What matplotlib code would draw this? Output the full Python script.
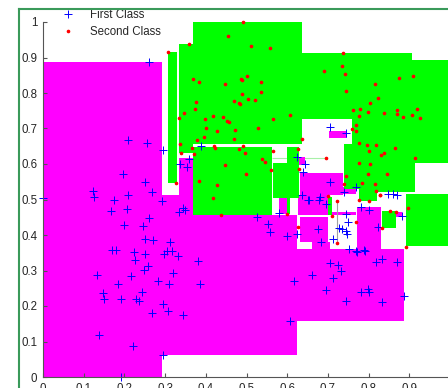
import matplotlib
matplotlib.use('Agg')
import numpy as np
import matplotlib.pyplot as plt
from matplotlib.lines import Line2D

plt.rcParams['font.family'] = ['Liberation Sans', 'DejaVu Sans']

# regions assigned to the first class (left, right, bottom, top)
first_left = [0.000, 0.293, 0.293, 0.335, 0.623, 0.771, 0.631, 0.662, 0.580, 0.627,
              0.631, 0.624, 0.703, 0.711, 0.738, 0.867]
first_right = [0.293, 0.623, 0.368, 0.368, 0.887, 0.831, 0.700, 0.705, 0.599, 0.700,
               0.738, 0.644, 0.746, 0.769, 0.769, 0.883]
first_bottom = [0.000, 0.062, 0.456, 0.456, 0.159, 0.361, 0.379, 0.361, 0.459, 0.456,
                0.513, 0.598, 0.673, 0.455, 0.515, 0.452]
first_top = [0.888, 0.456, 0.512, 0.617, 0.361, 0.478, 0.452, 0.379, 0.504, 0.513,
             0.575, 0.619, 0.693, 0.464, 0.534, 0.466]

# regions assigned to the second class
second_left = [0.307, 0.335, 0.369, 0.368, 0.637, 0.758, 0.740, 0.777, 0.777, 0.600,
               0.566, 0.599, 0.701, 0.832, 0.892]
second_right = [0.330, 0.369, 0.637, 0.562, 0.906, 1.000, 0.914, 0.914, 0.820, 0.629,
                0.600, 0.606, 0.711, 0.867, 1.000]
second_bottom = [0.547, 0.632, 0.656, 0.456, 0.726, 0.602, 0.530, 0.522, 0.496, 0.503,
                 0.503, 0.459, 0.456, 0.419, 0.368]
second_top = [0.916, 0.938, 0.999, 0.649, 0.912, 0.893, 0.656, 0.602, 0.522, 0.649,
              0.602, 0.504, 0.508, 0.468, 0.515]

# zero-width cells that only show up as thin seams
seam_h_y = [0.616]
seam_h_x0 = [0.563]
seam_h_x1 = [0.698]
seam_v_x = [0.722]
seam_v_y0 = [0.375]
seam_v_y1 = [0.497]

# samples of the first class
first_x = [0.260, 0.210, 0.256, 0.294, 0.196, 0.251, 0.124, 0.268, 0.337, 0.354,
           0.358, 0.389, 0.000, 0.126, 0.174, 0.208, 0.292, 0.168, 0.206, 0.260,
           0.333, 0.343, 0.349, 0.198, 0.246, 0.251, 0.270, 0.311, 0.169, 0.179,
           0.224, 0.251, 0.227, 0.298, 0.304, 0.317, 0.332, 0.381, 0.259, 0.249,
           0.133, 0.216, 0.319, 0.283, 0.184, 0.310, 0.386, 0.243, 0.148, 0.151,
           0.191, 0.228, 0.237, 0.294, 0.306, 0.269, 0.345, 0.138, 0.220, 0.295,
           0.191, 0.525, 0.581, 0.554, 0.558, 0.600, 0.623, 0.616, 0.608, 0.771,
           0.790, 0.705, 0.726, 0.731, 0.660, 0.712, 0.819, 0.832, 0.871, 0.696,
           0.781, 0.800, 0.799, 0.745, 0.833, 0.887, 0.653, 0.678, 0.681, 0.696,
           0.676, 0.682, 0.713, 0.727, 0.734, 0.744, 0.749, 0.745, 0.748, 0.752,
           0.769, 0.789, 0.781, 0.802, 0.823, 0.883, 0.847, 0.860, 0.869, 0.706,
           0.745, 0.624, 0.644, 0.639, 0.706, 0.769, 0.739, 0.637, 0.651]
first_y = [0.887, 0.668, 0.660, 0.640, 0.571, 0.548, 0.525, 0.521, 0.600, 0.592,
           0.613, 0.651, 0.505, 0.508, 0.499, 0.514, 0.495, 0.469, 0.472, 0.448,
           0.466, 0.477, 0.470, 0.428, 0.425, 0.388, 0.387, 0.381, 0.358, 0.358,
           0.352, 0.346, 0.330, 0.346, 0.356, 0.355, 0.341, 0.326, 0.313, 0.301,
           0.287, 0.285, 0.292, 0.270, 0.261, 0.262, 0.261, 0.239, 0.236, 0.219,
           0.219, 0.219, 0.215, 0.205, 0.186, 0.179, 0.174, 0.117, 0.087, 0.062,
           0.000, 0.452, 0.463, 0.431, 0.408, 0.397, 0.402, 0.271, 0.157, 0.352,
           0.356, 0.322, 0.316, 0.298, 0.287, 0.280, 0.323, 0.332, 0.323, 0.244,
           0.239, 0.239, 0.249, 0.215, 0.210, 0.228, 0.500, 0.500, 0.508, 0.486,
           0.417, 0.379, 0.389, 0.419, 0.416, 0.458, 0.436, 0.410, 0.404, 0.361,
           0.354, 0.359, 0.479, 0.470, 0.423, 0.454, 0.515, 0.515, 0.513, 0.704,
           0.686, 0.619, 0.601, 0.577, 0.548, 0.534, 0.522, 0.514, 0.499]

# samples of the second class
second_x = [0.491, 0.454, 0.358, 0.307, 0.510, 0.558, 0.369, 0.383, 0.447, 0.486,
            0.490, 0.500, 0.536, 0.488, 0.535, 0.376, 0.374, 0.469, 0.481, 0.485,
            0.504, 0.520, 0.347, 0.333, 0.417, 0.442, 0.398, 0.451, 0.456, 0.564,
            0.606, 0.401, 0.427, 0.472, 0.528, 0.336, 0.339, 0.378, 0.367, 0.395,
            0.419, 0.422, 0.372, 0.470, 0.482, 0.491, 0.496, 0.564, 0.448, 0.539,
            0.545, 0.498, 0.559, 0.383, 0.428, 0.328, 0.418, 0.437, 0.627, 0.629,
            0.599, 0.627, 0.637, 0.700, 0.722, 0.711, 0.722, 0.769, 0.777, 0.800,
            0.827, 0.852, 0.867, 0.834, 0.898, 0.893, 0.738, 0.690, 0.735, 0.741,
            0.874, 0.908, 0.816, 0.745, 0.824, 0.803, 0.761, 0.780, 0.799, 0.837,
            0.870, 0.870, 0.920, 0.776, 0.885, 0.906, 0.927, 0.769, 0.758, 0.770,
            0.776, 0.795, 0.819, 0.802, 0.830, 0.838, 0.866, 0.695, 0.913, 0.776,
            0.803, 0.745, 0.799, 0.846, 0.739, 0.785, 0.815, 0.817, 0.829]
second_y = [0.999, 0.961, 0.938, 0.916, 0.932, 0.928, 0.839, 0.832, 0.824, 0.839,
            0.837, 0.848, 0.832, 0.797, 0.803, 0.775, 0.755, 0.778, 0.772, 0.768,
            0.784, 0.781, 0.744, 0.729, 0.735, 0.731, 0.726, 0.720, 0.718, 0.726,
            0.737, 0.702, 0.694, 0.696, 0.702, 0.656, 0.631, 0.667, 0.645, 0.677,
            0.652, 0.644, 0.627, 0.670, 0.642, 0.650, 0.631, 0.637, 0.598, 0.615,
            0.605, 0.571, 0.582, 0.553, 0.542, 0.546, 0.503, 0.457, 0.643, 0.587,
            0.459, 0.423, 0.671, 0.509, 0.495, 0.453, 0.377, 0.436, 0.499, 0.495,
            0.514, 0.469, 0.466, 0.419, 0.475, 0.367, 0.912, 0.862, 0.875, 0.854,
            0.842, 0.848, 0.826, 0.806, 0.786, 0.771, 0.751, 0.755, 0.747, 0.744,
            0.753, 0.742, 0.755, 0.735, 0.731, 0.737, 0.729, 0.710, 0.699, 0.693,
            0.658, 0.654, 0.654, 0.637, 0.625, 0.631, 0.644, 0.617, 0.616, 0.604,
            0.599, 0.565, 0.571, 0.571, 0.544, 0.547, 0.545, 0.523, 0.513]

ticks = np.arange(0, 1.01, 0.1)
tick_labels = ['0', '0.1', '0.2', '0.3', '0.4', '0.5', '0.6', '0.7', '0.8', '0.9', '1']

fig = plt.figure(figsize=(4.48, 3.88), dpi=100)
ax = fig.add_axes([43 / 448, 11 / 388, 407 / 448, 355 / 388])

ax.bar(first_left, np.subtract(first_top, first_bottom),
       width=np.subtract(first_right, first_left), bottom=first_bottom,
       align='edge', color='#ff00ff', linewidth=0)
ax.bar(second_left, np.subtract(second_top, second_bottom),
       width=np.subtract(second_right, second_left), bottom=second_bottom,
       align='edge', color='#00ff00', linewidth=0)
ax.hlines(seam_h_y, seam_h_x0, seam_h_x1, color='#a8f0a8', lw=0.8, zorder=0.5)
ax.vlines(seam_v_x, seam_v_y0, seam_v_y1, color='#a0a0a0', lw=0.8, zorder=1.5)

ax.plot(first_x, first_y, '+', color='#0000ff', ms=6, mew=0.7,
        label='First Class', clip_on=False)
ax.plot(second_x, second_y, '.', color='#ff0000', ms=3.2,
        label='Second Class', clip_on=False)

ax.set_xlim(0, 1)
ax.set_ylim(0, 1)
ax.set_xticks(ticks)
ax.set_yticks(ticks)
ax.set_xticklabels(tick_labels)
ax.set_yticklabels(tick_labels)
ax.tick_params(direction='in', length=3, width=0.8, colors='#555555',
               labelcolor='#262626', labelsize=8.3, pad=4)
for side in ['top', 'right']:
    ax.spines[side].set_visible(False)
for side in ['left', 'bottom']:
    ax.spines[side].set_color('#555555')
    ax.spines[side].set_linewidth(0.8)

ax.legend(loc='upper left', bbox_to_anchor=(0.114, 0.992),
          bbox_transform=fig.transFigure, frameon=False, fontsize=8.3,
          borderpad=0, handletextpad=0.9, labelspacing=0.45, numpoints=1,
          labelcolor='#262626')

# outer frame
fig.add_artist(Line2D([19 / 448, 19 / 448], [0, 1 - 9 / 388],
                      transform=fig.transFigure, color='#3a9a5a', lw=1.5))
fig.add_artist(Line2D([19 / 448, 1], [1 - 9 / 388, 1 - 9 / 388],
                      transform=fig.transFigure, color='#3a9a5a', lw=1.5))

fig.savefig('out.png', dpi=100)
